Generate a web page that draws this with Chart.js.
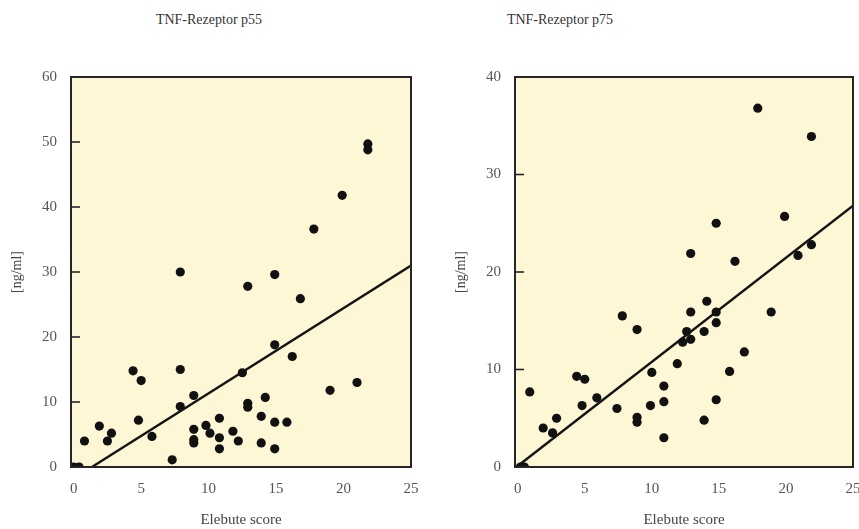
<!DOCTYPE html>
<html lang="de">
<head>
<meta charset="UTF-8">
<title>TNF-Rezeptor p55 / p75</title>
<style>
    body {
        margin: 0;
        background: #fff;
        font-family: "Liberation Serif", serif;
    }
    .panel {
        position: absolute;
        top: 0;
        height: 529px;
    }
    #left { left: 0; width: 430px; }
    #right { left: 430px; width: 429px; }
    .title {
        position: absolute;
        top: 12px;
        width: 200px;
        text-align: center;
        font-size: 14px;
        color: #333;
    }
</style>
</head>
<body>
<div class="title" style="left:109px">TNF-Rezeptor p55</div>
<div class="title" style="left:460px">TNF-Rezeptor p75</div>
<div class="panel" id="left"><canvas id="c55"></canvas></div>
<div class="panel" id="right"><canvas id="c75"></canvas></div>
<script src="https://cdn.jsdelivr.net/npm/chart.js"></script>
<script>
// values (x = Elebute score, y = ng/ml)
const p55X = [0, 0.4, 0.8, 1.9, 2.5, 2.8, 4.4, 4.8, 5, 5.8, 7.3, 7.9, 7.9, 7.9, 8.9, 8.9, 8.9, 8.9,
    9.8, 10.1, 10.8, 10.8, 10.8, 11.8, 12.2, 12.5, 12.9, 12.9, 12.9, 13.9, 13.9, 14.2, 14.9, 14.9,
    14.9, 14.9, 15.8, 16.2, 16.8, 17.8, 19, 19.9, 21, 21.8, 21.8];
const p55Y = [0, 0, 4, 6.3, 4, 5.2, 14.8, 7.2, 13.3, 4.7, 1.1, 30, 15, 9.3, 11, 5.8, 4.2, 3.7,
    6.4, 5.2, 7.5, 4.5, 2.8, 5.5, 4, 14.5, 27.8, 9.8, 9.2, 7.8, 3.7, 10.7, 29.6, 18.8,
    6.9, 2.8, 6.9, 17, 25.9, 36.6, 11.8, 41.8, 13, 49.7, 48.8];
const p55FitX = [1.35, 25];
const p55FitY = [0, 31];

const p75X = [0.2, 0.5, 0.9, 1.9, 2.6, 2.9, 4.4, 4.8, 5, 5.9, 7.4, 7.8, 8.9, 8.9, 8.9, 9.9, 10,
    10.9, 10.9, 10.9, 11.9, 12.3, 12.6, 12.9, 12.9, 12.9, 13.9, 13.9, 14.1, 14.8, 14.8, 14.8, 14.8,
    15.8, 16.2, 16.9, 17.9, 18.9, 19.9, 20.9, 21.9, 21.9];
const p75Y = [0, 0, 7.7, 4, 3.5, 5, 9.3, 6.3, 9, 7.1, 6, 15.5, 14.1, 5.1, 4.6, 6.3, 9.7,
    8.3, 6.7, 3, 10.6, 12.8, 13.9, 21.9, 15.9, 13.1, 13.9, 4.8, 17, 25, 15.9, 14.8, 6.9,
    9.8, 21.1, 11.8, 36.8, 15.9, 25.7, 21.7, 33.9, 22.8];
const p75FitX = [0, 25];
const p75FitY = [0.1, 26.8];

const xTicks = [0, 5, 10, 15, 20, 25];
const p55YTicks = [0, 10, 20, 30, 40, 50, 60];
const p75YTicks = [0, 10, 20, 30, 40];

// yellow plot area, dark frame and short inner ticks on the y axis
const plotFrame = {
    id: 'plotFrame',
    beforeDatasetsDraw(chart) {
        const { ctx, chartArea: a } = chart;
        ctx.save();
        ctx.fillStyle = '#fdf7d6';
        ctx.fillRect(a.left, a.top, a.right - a.left, a.bottom - a.top);
        ctx.restore();
    },
    afterDatasetsDraw(chart) {
        const { ctx, chartArea: a, scales } = chart;
        ctx.save();
        ctx.strokeStyle = '#262626';
        ctx.lineWidth = 2;
        ctx.strokeRect(a.left, a.top, a.right - a.left, a.bottom - a.top);
        ctx.lineWidth = 1.6;
        scales.y.ticks.forEach(t => {
            const y = scales.y.getPixelForValue(t.value);
            ctx.beginPath();
            ctx.moveTo(a.left, y);
            ctx.lineTo(a.left + 9, y);
            ctx.stroke();
        });
        ctx.restore();
    }
};

const serif = { family: '"Liberation Serif", serif', size: 15 };

function makeChart(id, xs, ys, fitX, fitY, yTicks, padLeft, padRight) {
    return new Chart(document.getElementById(id), {
        type: 'scatter',
        data: {
            datasets: [{
                data: xs.map((x, i) => ({ x: x, y: ys[i] })),
                backgroundColor: '#111',
                borderWidth: 0,
                pointRadius: 4.6
            }, {
                type: 'line',
                data: fitX.map((x, i) => ({ x: x, y: fitY[i] })),
                borderColor: '#141414',
                borderWidth: 2.4,
                pointRadius: 0,
                fill: false
            }]
        },
        options: {
            responsive: true,
            maintainAspectRatio: false,
            animation: false,
            layout: { padding: { left: padLeft, right: padRight, top: 77, bottom: 0 } },
            plugins: { legend: { display: false }, tooltip: { enabled: false } },
            scales: {
                x: {
                    type: 'linear',
                    min: -0.2,
                    max: 25,
                    afterBuildTicks: s => { s.ticks = xTicks.map(v => ({ value: v })); },
                    afterFit: s => { s.height = 62; s.paddingLeft = 0; s.paddingRight = 0; },
                    grid: { display: false, drawTicks: false },
                    border: { display: false },
                    ticks: { padding: 13, color: '#555', font: serif, maxRotation: 0, autoSkip: false },
                    title: { display: true, text: 'Elebute score', color: '#444', font: serif, padding: { top: 0, bottom: 0 } }
                },
                y: {
                    min: 0,
                    max: yTicks[yTicks.length - 1],
                    afterBuildTicks: s => { s.ticks = yTicks.map(v => ({ value: v })); },
                    afterFit: s => { s.width = 71; },
                    grid: { display: false, drawTicks: false },
                    border: { display: false },
                    ticks: { padding: 14, color: '#555', font: serif, autoSkip: false },
                    title: { display: true, text: '[ng/ml]', color: '#444', font: { family: serif.family, size: 14 }, padding: { top: 9, bottom: 0 } }
                }
            }
        },
        plugins: [plotFrame]
    });
}

makeChart('c55', p55X, p55Y, p55FitX, p55FitY, p55YTicks, 0, 19);
makeChart('c75', p75X, p75Y, p75FitX, p75FitY, p75YTicks, 14, 6);
</script>
</body>
</html>
